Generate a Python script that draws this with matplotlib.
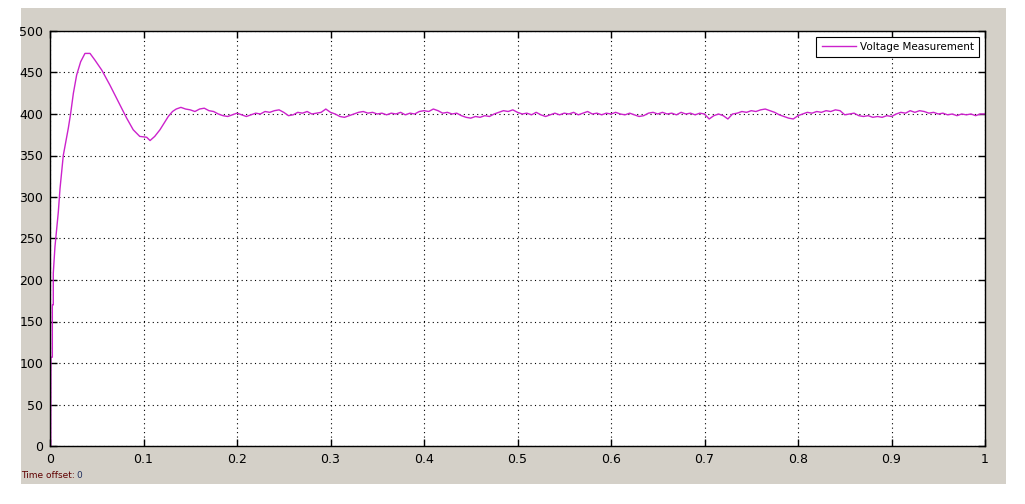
import matplotlib
matplotlib.use("Agg")
import matplotlib.pyplot as plt
from matplotlib.patches import Rectangle

# ---- data ----
# start-up transient
transient_t = [0.0, 0.0008, 0.001, 0.0025, 0.0025, 0.0035, 0.0035, 0.0053, 0.0072, 0.0089,
               0.0107, 0.0125, 0.0142, 0.015, 0.0196, 0.022, 0.025, 0.0285, 0.0328, 0.0374,
               0.0428, 0.048, 0.0553, 0.064, 0.073, 0.082, 0.089, 0.096, 0.1034, 0.107,
               0.112, 0.1176, 0.1265, 0.131]
transient_v = [0, 0, 107, 107, 170, 170, 208, 240, 262, 282,
               310, 330, 350, 355, 383, 400, 425, 447, 463, 473,
               473, 465, 453, 435, 415, 395, 381, 373, 372, 368,
               373, 381, 397, 403]

# steady state, sampled every 5 ms from t = 0.135 s to 1.0 s
steady_start = 0.135
steady_step = 0.005
steady_v = [406, 408, 406, 405, 403, 406, 407, 404, 403, 400,
            398, 397, 399, 401, 399, 397, 399, 401, 400, 403,
            402, 404, 405, 402, 398, 399, 402, 401, 403, 400,
            401, 402, 406, 402, 400, 397, 396, 398, 400, 402,
            403, 401, 402, 400, 401, 399, 401, 400, 402, 399,
            401, 400, 403, 404, 403, 406, 404, 401, 402, 400,
            401, 398, 396, 395, 397, 396, 398, 397, 400, 402,
            404, 403, 405, 402, 400, 401, 399, 402, 399, 397,
            399, 401, 399, 401, 400, 402, 399, 401, 403, 400,
            401, 399, 401, 400, 402, 400, 399, 401, 399, 397,
            398, 401, 402, 400, 402, 400, 401, 399, 402, 400,
            401, 399, 401, 400, 394, 398, 400, 398, 394, 400,
            401, 403, 402, 404, 403, 405, 406, 404, 402, 399,
            397, 395, 394, 398, 400, 402, 401, 403, 402, 404,
            403, 405, 404, 399, 400, 401, 398, 397, 398, 396,
            397, 396, 398, 397, 400, 402, 401, 404, 402, 404,
            403, 401, 402, 400, 401, 399, 400, 398, 400, 399,
            400, 398, 400, 400]
steady_t = [round(steady_start + steady_step * i, 4) for i in range(len(steady_v))]

time_s = transient_t + steady_t
voltage = transient_v + steady_v

x_ticks = [0, 0.1, 0.2, 0.3, 0.4, 0.5, 0.6, 0.7, 0.8, 0.9, 1]
x_tick_labels = ["0", "0.1", "0.2", "0.3", "0.4", "0.5", "0.6", "0.7", "0.8", "0.9", "1"]
y_ticks = [0, 50, 100, 150, 200, 250, 300, 350, 400, 450, 500]
series_label = "Voltage Measurement"

# ---- figure ----
W, H = 1025, 504
fig = plt.figure(figsize=(W / 100, H / 100), dpi=100)
fig.patch.set_facecolor("white")

# gray scope panel
panel = Rectangle((21 / W, 1 - 484 / H), (1006 - 21) / W, (484 - 8) / H,
                  transform=fig.transFigure, facecolor="#d4d0c8",
                  edgecolor="none", zorder=-5)
fig.add_artist(panel)

ax = fig.add_axes([50 / W, 1 - 446 / H, (985 - 50) / W, (446 - 31) / H])
ax.set_zorder(5)
ax.set_facecolor("white")
ax.plot(time_s, voltage, color="#cc22cc", lw=1.0, label=series_label)

ax.set_xlim(0, 1)
ax.set_ylim(0, 500)
ax.set_xticks(x_ticks)
ax.set_xticklabels(x_tick_labels)
ax.set_yticks(y_ticks)
ax.tick_params(direction="in", length=5, width=1, top=True, right=True,
               labelsize=9, pad=5, colors="black")
ax.grid(True, color="black", linestyle=(0, (1, 3)), linewidth=0.8)
for s in ax.spines.values():
    s.set_color("black")
    s.set_linewidth(1)

leg = ax.legend(loc="upper right", fancybox=False, edgecolor="black",
                framealpha=1, fontsize=7.5, handlelength=3.3,
                handletextpad=0.4, borderaxespad=0.55, borderpad=0.5)
leg.get_frame().set_linewidth(0.8)

fig.text(21 / W, 1 - 478 / H, "Time offset:", fontsize=6.5, color="#600000",
         va="baseline", zorder=6)
fig.text(76 / W, 1 - 478 / H, "0", fontsize=6.5, color="#203060",
         va="baseline", zorder=6)

fig.savefig("out.png", dpi=100)
